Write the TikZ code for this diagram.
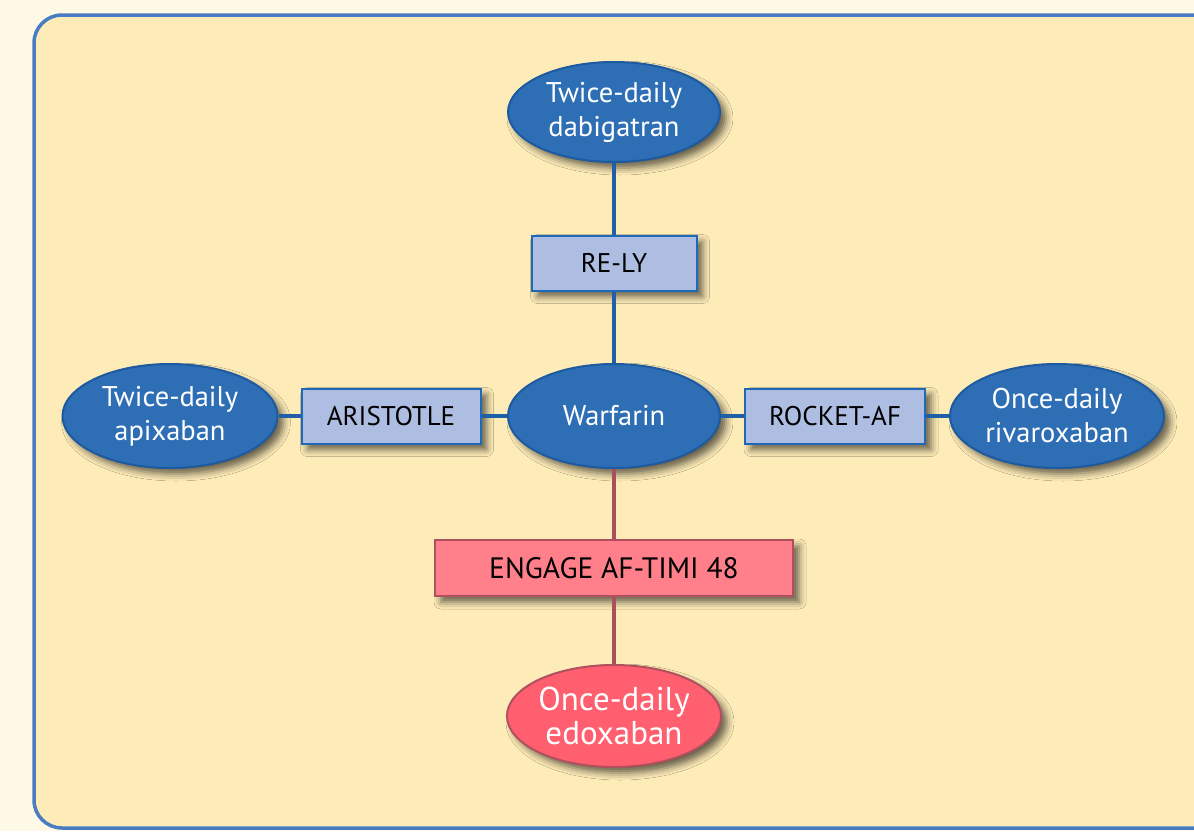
\documentclass[tikz,border=0pt]{standalone}
\usepackage{fontspec}
\setmainfont{PT Sans}
\usetikzlibrary{shapes.geometric,shadows.blur}

\definecolor{pagebg}{HTML}{FDF9E6}
\definecolor{panelfill}{HTML}{FEECB8}
\definecolor{panelline}{HTML}{4A7CC4}
\definecolor{drugblue}{HTML}{2E6EB5}
\definecolor{drugline}{HTML}{1D5AA0}
\definecolor{trialfill}{HTML}{AEBDE2}
\definecolor{trialline}{HTML}{1F68B6}
\definecolor{linkblue}{HTML}{1F5FA8}
\definecolor{engagefill}{HTML}{FF808A}
\definecolor{engageline}{HTML}{B0505E}
\definecolor{edoxfill}{HTML}{FF5F6E}
\definecolor{linkred}{HTML}{A8505E}

\tikzset{
  softshadow/.style={blur shadow={shadow xshift=6pt, shadow yshift=-6pt,
      shadow blur radius=7pt, shadow opacity=60}},
  drug/.style={ellipse, draw=drugline, line width=2pt, fill=drugblue,
      text=white, minimum width=212pt, minimum height=104pt, inner sep=0pt,
      align=center, font=\fontsize{28.5}{34}\selectfont, softshadow},
  trial/.style={rectangle, draw=trialline, line width=2pt, fill=trialfill,
      minimum height=55pt, inner sep=0pt, font=\fontsize{27}{32}\selectfont,
      softshadow},
  link/.style={line width=4.5pt, draw=linkblue},
}

\begin{document}
\begin{tikzpicture}[x=1pt,y=-1pt]
    \useasboundingbox (0,0) rectangle (1194,831);
    \fill[pagebg] (0,0) rectangle (1194,831);

    % panel
    \begin{scope}
    \clip (0,0) rectangle (1194,831);
    \draw[panelline, fill=panelfill, line width=3.5pt, rounded corners=28pt]
        (34,15) rectangle (1230,828);
    \end{scope}

    % drugs
    \node[drug] (warfarin) at (614,416) {Warfarin};
    \node[drug, minimum height=100pt] (dabigatran) at (614,112) {Twice-daily\\dabigatran};
    \node[drug, minimum width=215pt] (apixaban) at (170,416) {Twice-daily\\apixaban};
    \node[drug, minimum width=214pt] (rivaroxaban) at (1057,416) {Once-daily\\rivaroxaban};
    \node[drug, draw=engageline, fill=edoxfill, minimum height=102pt,
        font=\fontsize{33}{34}\selectfont] (edoxaban) at (614,716) {Once-daily\\edoxaban};

    % trials
    \node[trial, minimum width=165pt] (rely) at (614,263) {RE-LY};
    \node[trial, minimum width=179pt] (aristotle) at (391,416) {ARISTOTLE};
    \node[trial, minimum width=180pt] (rocket) at (835,416) {ROCKET-AF};
    \node[trial, draw=engageline, fill=engagefill, minimum width=358pt,
        minimum height=56pt, font=\fontsize{29.5}{34}\selectfont] (engage) at (614,568) {ENGAGE AF-TIMI 48};

    % links
    \draw[link] (dabigatran.south) -- (rely.north);
    \draw[link] (rely.south) -- (warfarin.north);
    \draw[link] (apixaban.east) -- (aristotle.west);
    \draw[link] (aristotle.east) -- (warfarin.west);
    \draw[link] (warfarin.east) -- (rocket.west);
    \draw[link] (rocket.east) -- (rivaroxaban.west);
    \draw[link, draw=linkred] (warfarin.south) -- (engage.north);
    \draw[link, draw=linkred] (engage.south) -- (edoxaban.north);
\end{tikzpicture}
\end{document}
